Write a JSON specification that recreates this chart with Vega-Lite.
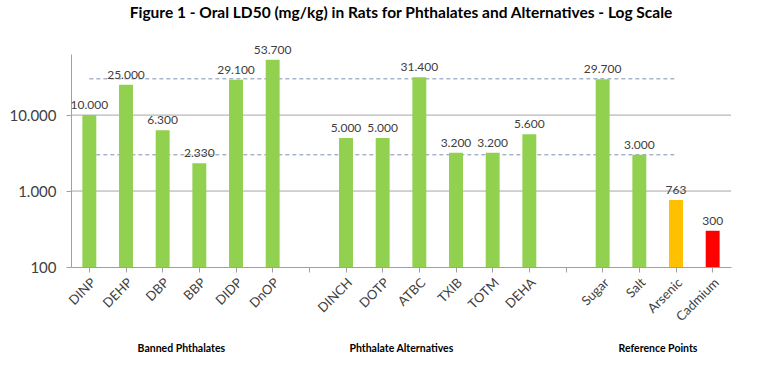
{
  "$schema": "https://vega.github.io/schema/vega-lite/v6.json",
  "autosize": {"type": "none"},
  "width": 660,
  "height": 213,
  "padding": {"left": 71, "top": 54, "right": 29, "bottom": 111},
  "background": "white",
  "title": {
    "text": "Figure 1 - Oral LD50 (mg/kg)  in Rats for Phthalates and Alternatives - Log Scale",
    "font": "Lato",
    "fontSize": 15.5,
    "fontWeight": "bold",
    "color": "#000000",
    "anchor": "middle",
    "offset": 22
  },
  "datasets": {
    "bars": [
      {"substance": "DINP", "group": "Banned Phthalates", "ld50": 10000, "label": "10.000", "tox": "low"},
      {"substance": "DEHP", "group": "Banned Phthalates", "ld50": 25000, "label": "25.000", "tox": "low"},
      {"substance": "DBP", "group": "Banned Phthalates", "ld50": 6300, "label": "6.300", "tox": "low"},
      {"substance": "BBP", "group": "Banned Phthalates", "ld50": 2330, "label": "2.330", "tox": "low"},
      {"substance": "DIDP", "group": "Banned Phthalates", "ld50": 29100, "label": "29.100", "tox": "low"},
      {"substance": "DnOP", "group": "Banned Phthalates", "ld50": 53700, "label": "53.700", "tox": "low"},
      {"substance": "DINCH", "group": "Phthalate Alternatives", "ld50": 5000, "label": "5.000", "tox": "low"},
      {"substance": "DOTP", "group": "Phthalate Alternatives", "ld50": 5000, "label": "5.000", "tox": "low"},
      {"substance": "ATBC", "group": "Phthalate Alternatives", "ld50": 31400, "label": "31.400", "tox": "low"},
      {"substance": "TXIB", "group": "Phthalate Alternatives", "ld50": 3200, "label": "3.200", "tox": "low"},
      {"substance": "TOTM", "group": "Phthalate Alternatives", "ld50": 3200, "label": "3.200", "tox": "low"},
      {"substance": "DEHA", "group": "Phthalate Alternatives", "ld50": 5600, "label": "5.600", "tox": "low"},
      {"substance": "Sugar", "group": "Reference Points", "ld50": 29700, "label": "29.700", "tox": "low"},
      {"substance": "Salt", "group": "Reference Points", "ld50": 3000, "label": "3.000", "tox": "low"},
      {"substance": "Arsenic", "group": "Reference Points", "ld50": 763, "label": "763", "tox": "high"},
      {"substance": "Cadmium", "group": "Reference Points", "ld50": 300, "label": "300", "tox": "very high"}
    ],
    "refs": [
      {"from": "DINP", "to": "Arsenic", "level": 30000},
      {"from": "DINP", "to": "Arsenic", "level": 3000}
    ],
    "gridlines": [
      {"tick": 1000},
      {"tick": 10000}
    ]
  },
  "resolve": {"axis": {"x": "independent"}},
  "layer": [
    {
      "data": {"name": "gridlines"},
      "mark": {"type": "rule", "color": "#a6a6a6", "strokeWidth": 1},
      "encoding": {
        "y": {"field": "tick", "type": "quantitative"}
      }
    },
    {
      "data": {"name": "refs"},
      "mark": {"type": "rule", "color": "#7d90b2", "strokeDash": [4, 3], "strokeWidth": 1},
      "encoding": {
        "x": {
          "field": "from",
          "type": "nominal",
          "axis": {
            "title": null,
            "orient": "bottom",
            "labelExpr": "datum.value == 'BBP' ? 'Banned Phthalates' : datum.value == 'ATBC' ? 'Phthalate Alternatives' : datum.value == 'Arsenic' ? 'Reference Points' : ''",
            "labelAngle": 0,
            "labelAlign": "center",
            "labelBaseline": "middle",
            "labelOffset": -18,
            "labelFont": "Lato",
            "labelFontSize": 10.5,
            "labelFontWeight": "bold",
            "labelColor": "#000000",
            "labelPadding": 0,
            "labelOverlap": false,
            "offset": 81,
            "ticks": false,
            "domain": false,
            "grid": false
          }
        },
        "x2": {"field": "to"},
        "y": {"field": "level", "type": "quantitative"}
      }
    },
    {
      "data": {"name": "bars"},
      "mark": {"type": "bar"},
      "encoding": {
        "x": {
          "field": "substance",
          "type": "nominal",
          "scale": {
            "domain": ["DINP", "DEHP", "DBP", "BBP", "DIDP", "DnOP", "gap1", "DINCH", "DOTP", "ATBC", "TXIB", "TOTM", "DEHA", "gap2", "Sugar", "Salt", "Arsenic", "Cadmium"],
            "paddingInner": 0.62,
            "paddingOuter": 0.31
          },
          "axis": {
            "title": null,
            "orient": "bottom",
            "labelExpr": "indexof(datum.value, 'gap') == 0 ? '' : datum.value",
            "labelAngle": -45,
            "labelFont": "Lato",
            "labelFontSize": 13,
            "labelColor": "#404040",
            "labelPadding": 4,
            "tickSize": 5,
            "tickColor": "#a0a0a0",
            "domainColor": "#a0a0a0",
            "grid": false
          }
        },
        "y": {
          "field": "ld50",
          "type": "quantitative",
          "scale": {"type": "log", "domain": [100, 63700], "nice": false},
          "axis": {
            "title": null,
            "values": [100, 1000, 10000],
            "labelExpr": "datum.value == 10000 ? '10.000' : datum.value == 1000 ? '1.000' : '100'",
            "labelFont": "Lato",
            "labelFontSize": 15,
            "labelColor": "#404040",
            "labelPadding": 10,
            "tickSize": 5,
            "tickColor": "#a0a0a0",
            "domainColor": "#a0a0a0",
            "grid": false
          }
        },
        "y2": {"datum": 100},
        "color": {
          "field": "tox",
          "type": "nominal",
          "scale": {"domain": ["low", "high", "very high"], "range": ["#92D050", "#FFC000", "#FF0000"]},
          "legend": null
        }
      }
    },
    {
      "data": {"name": "bars"},
      "mark": {"type": "text", "baseline": "bottom", "dy": -3, "font": "Lato", "fontSize": 12, "color": "#404040"},
      "encoding": {
        "x": {"field": "substance", "type": "nominal", "axis": null},
        "y": {"field": "ld50", "type": "quantitative"},
        "text": {"field": "label", "type": "nominal"}
      }
    }
  ],
  "config": {
    "view": {"stroke": null}
  }
}
